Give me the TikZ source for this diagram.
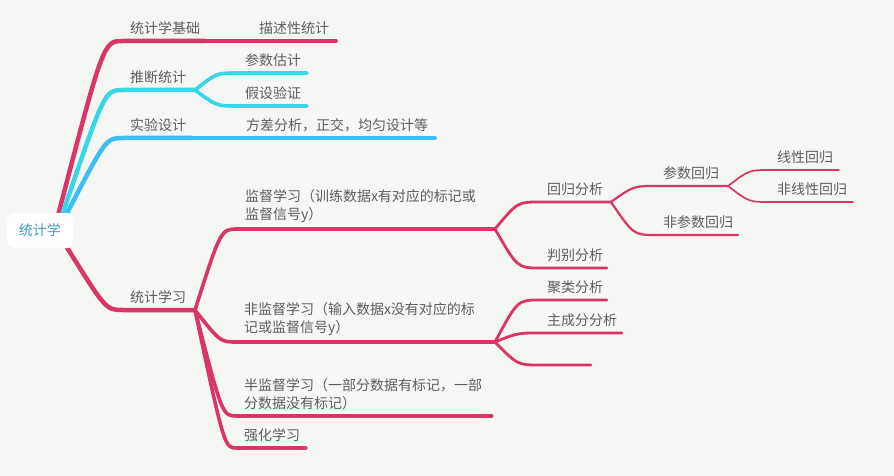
\documentclass[tikz,border=0pt]{standalone}
\usepackage{fontspec}
\setmainfont{Noto Sans CJK SC}
\usetikzlibrary{backgrounds, calc}
\definecolor{mmbg}{HTML}{F5F7F4}
\definecolor{mmpink}{HTML}{DA3468}
\definecolor{mmcyan}{HTML}{37D6E8}
\definecolor{mmblue}{HTML}{3ABEF5}
\definecolor{mmtext}{HTML}{5E5E5E}
\definecolor{mmroot}{HTML}{3F9FBC}

\begin{document}
\begin{tikzpicture}[
    x=1pt, y=-1pt,
    font=\fontsize{14}{18}\selectfont,
    topic/.style={anchor=south west, inner xsep=7pt, inner ysep=6.5pt, outer sep=0pt, text=mmtext, align=left, text width=#1pt-14pt},
    rootbox/.style={fill=white, draw=black!5, rounded corners=6pt, minimum width=66pt, minimum height=35pt, inner sep=0pt, text=mmroot},
    curvy/.style={to path={.. controls ($(\tikztotarget -| \tikztostart)!#1!(\tikztotarget)$) .. (\tikztotarget) \tikztonodes}},
    curvy/.default=0.5,
    wa/.style={line width=4.5pt, line cap=round, line join=round},
    wb/.style={line width=3.6pt, line cap=round, line join=round},
    wc/.style={line width=2.8pt, line cap=round, line join=round},
    wd/.style={line width=2.2pt, line cap=round, line join=round},
    we/.style={line width=1.7pt, line cap=round, line join=round},
]
\useasboundingbox (0,0) rectangle (894,476);

% root
\node[rootbox] (root) at (40,230.5) {统计学};
\coordinate (r1) at ([xshift=-15pt,yshift=-2pt]root.north east);
\coordinate (r2) at ([xshift=-11pt,yshift=-2pt]root.north east);
\coordinate (r3) at ([xshift=-7pt,yshift=-2pt]root.north east);
\coordinate (r4) at ([xshift=-7pt,yshift=2pt]root.south east);

% first level
\node[topic=82] (jc) at (123,41) {统计学基础};
\node[topic=72] (tj) at (123,90) {推断统计};
\node[topic=69] (sy) at (123,138) {实验设计};
\node[topic=72] (tx) at (123,310) {统计学习};

% second level
\node[topic=131, align=right] (ms) at (205,41) {描述性统计};
\node[topic=69] (cs) at (238,73) {参数估计};
\node[topic=69] (jy) at (238,106) {假设验证};
\node[topic=243, align=right] (fc) at (192,138) {方差分析，正交，均匀设计等};
\node[topic=257] (jd) at (238,229) {监督学习（训练数据x有对应的标记或\\监督信号y）};
\node[topic=258] (fjd) at (237,342) {非监督学习（输入数据x没有对应的标\\记或监督信号y）};
\node[topic=255] (bjd) at (237,416) {半监督学习（一部分数据有标记，一部\\分数据没有标记）};
\node[topic=69] (qh) at (237,448) {强化学习};

% third level
\node[topic=71] (hg) at (540,202) {回归分析};
\node[topic=67] (pb) at (540,268) {判别分析};
\node[topic=67] (jl) at (540,300) {聚类分析};
\node[topic=82] (zc) at (540,333) {主成分分析};
\node[topic=51] (kb) at (540,365) {};

% fourth and fifth level
\node[topic=72] (cshg) at (656,186) {参数回归};
\node[topic=82] (fcs) at (656,235) {非参数回归};
\node[topic=69] (xx) at (770,170) {线性回归};
\node[topic=83] (fxx) at (770,202) {非线性回归};

\begin{scope}[on background layer]
    \fill[mmbg] (0,0) rectangle (894,476);

    \draw[wa, mmpink] (r1) to[curvy=0.7] (jc.south west) -- (jc.south east);
    \draw[wa, mmcyan] (r2) to[curvy=0.7] (tj.south west) -- (tj.south east);
    \draw[wa, mmblue] (r3) to[curvy=0.7] (sy.south west) -- (sy.south east);
    \draw[wa, mmpink] (r4) to[curvy=0.7] (tx.south west) -- (tx.south east);

    \draw[wb, mmpink] (jc.south east) -- (ms.south east);
    \draw[wb, mmcyan] (tj.south east) to[curvy] (cs.south west) -- (cs.south east);
    \draw[wb, mmcyan] (tj.south east) to[curvy] (jy.south west) -- (jy.south east);
    \draw[wb, mmblue] (sy.south east) -- (fc.south east);

    \draw[wb, mmpink] (tx.south east) to[curvy=0.6] (jd.south west) -- (jd.south east);
    \draw[wb, mmpink] (tx.south east) to[curvy=0.6] (fjd.south west) -- (fjd.south east);
    \draw[wb, mmpink] (tx.south east) to[curvy=0.65] (bjd.south west) -- (bjd.south east);
    \draw[wb, mmpink] (tx.south east) to[curvy=0.7] (qh.south west) -- (qh.south east);

    \draw[wc, mmpink] (jd.south east) to[curvy] (hg.south west) -- (hg.south east);
    \draw[wc, mmpink] (jd.south east) to[curvy] (pb.south west) -- (pb.south east);
    \draw[wc, mmpink] (fjd.south east) to[curvy] (jl.south west) -- (jl.south east);
    \draw[wc, mmpink] (fjd.south east) to[curvy] (zc.south west) -- (zc.south east);
    \draw[wc, mmpink] (fjd.south east) to[curvy] (kb.south west) -- (kb.south east);

    \draw[wd, mmpink] (hg.south east) to[curvy] (cshg.south west) -- (cshg.south east);
    \draw[wd, mmpink] (hg.south east) to[curvy] (fcs.south west) -- (fcs.south east);
    \draw[we, mmpink] (cshg.south east) to[curvy] (xx.south west) -- (xx.south east);
    \draw[we, mmpink] (cshg.south east) to[curvy] (fxx.south west) -- (fxx.south east);
\end{scope}
\end{tikzpicture}
\end{document}
